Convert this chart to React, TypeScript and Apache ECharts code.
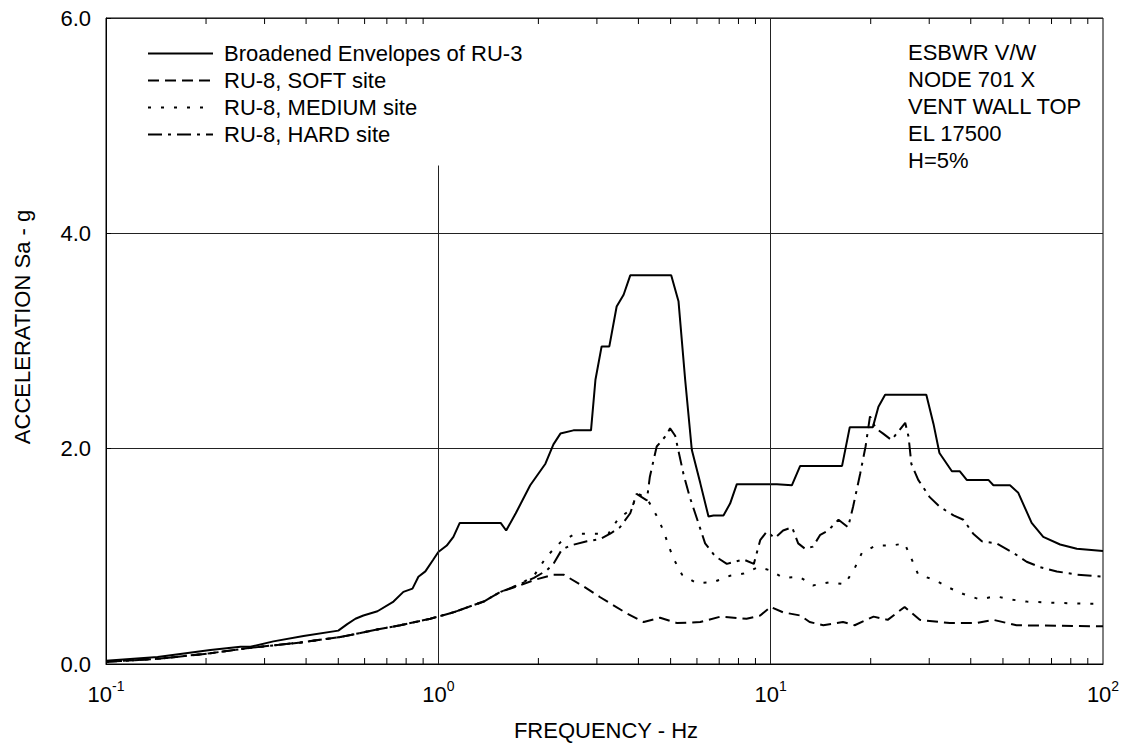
import React, { useEffect, useRef } from "react";
import * as echarts from "echarts";

// ---- Data (frequency in Hz, spectral acceleration in g) ----
const envFreq = [0.1, 0.143, 0.206, 0.254, 0.272, 0.319, 0.393, 0.5, 0.532, 0.563, 0.595, 0.656, 0.733, 0.785, 0.836, 0.871, 0.914, 0.966, 1.0, 1.06, 1.11, 1.16, 1.54, 1.6, 1.71, 1.89, 2.1, 2.22, 2.33, 2.55, 2.88, 2.97, 3.1, 3.27, 3.44, 3.61, 3.78, 5.02, 5.28, 5.53, 5.79, 6.14, 6.5, 6.73, 7.21, 7.55, 7.91, 10.44, 11.58, 12.27, 16.4, 17.3, 20.3, 21.1, 22.1, 29.4, 30.9, 32.2, 35.1, 37.1, 38.9, 45.2, 46.8, 52.5, 55.6, 61.0, 66.1, 74.3, 83.4, 100];
const envAcc = [0.03, 0.065, 0.13, 0.16, 0.16, 0.21, 0.26, 0.31, 0.37, 0.42, 0.45, 0.49, 0.58, 0.67, 0.7, 0.81, 0.86, 0.97, 1.04, 1.1, 1.18, 1.31, 1.31, 1.24, 1.4, 1.66, 1.86, 2.04, 2.14, 2.17, 2.17, 2.64, 2.95, 2.95, 3.32, 3.43, 3.61, 3.61, 3.37, 2.64, 1.99, 1.68, 1.37, 1.38, 1.38, 1.49, 1.67, 1.67, 1.66, 1.84, 1.84, 2.2, 2.2, 2.39, 2.5, 2.5, 2.23, 1.96, 1.79, 1.79, 1.71, 1.71, 1.66, 1.66, 1.59, 1.31, 1.18, 1.11, 1.07, 1.05];

const softFreq = [0.1, 0.146, 0.206, 0.272, 0.385, 0.507, 0.654, 0.769, 0.946, 1.11, 1.37, 1.54, 1.76, 1.94, 2.22, 2.38, 2.74, 3.07, 3.69, 4.15, 4.65, 5.23, 6.14, 7.06, 8.46, 9.3, 10.0, 10.9, 12.3, 13.1, 14.4, 16.5, 17.9, 20.4, 22.5, 25.3, 28.1, 30.1, 34.6, 41.6, 46.8, 54.9, 100];
const softAcc = [0.02, 0.05, 0.1, 0.15, 0.2, 0.25, 0.32, 0.36, 0.42, 0.48, 0.58, 0.67, 0.73, 0.78, 0.83, 0.83, 0.72, 0.62, 0.47, 0.39, 0.43, 0.38, 0.39, 0.44, 0.42, 0.45, 0.53, 0.48, 0.45, 0.39, 0.36, 0.39, 0.36, 0.44, 0.41, 0.53, 0.41, 0.4, 0.38, 0.38, 0.41, 0.36, 0.35];

const medFreq = [0.1, 0.146, 0.206, 0.272, 0.385, 0.507, 0.654, 0.769, 0.946, 1.11, 1.37, 1.54, 1.76, 1.94, 2.12, 2.33, 2.58, 2.9, 3.25, 3.48, 3.78, 4.0, 4.24, 4.55, 4.77, 4.94, 5.12, 5.41, 5.99, 6.72, 7.55, 8.29, 9.18, 9.96, 10.9, 12.2, 13.4, 15.1, 16.7, 17.9, 18.8, 20.7, 23.1, 25.3, 26.5, 27.8, 31.2, 34.3, 38.0, 42.6, 47.5, 52.4, 58.9, 69.0, 87.2, 100];
const medAcc = [0.02, 0.05, 0.1, 0.15, 0.2, 0.25, 0.32, 0.36, 0.42, 0.48, 0.58, 0.67, 0.74, 0.82, 1.0, 1.13, 1.21, 1.21, 1.21, 1.35, 1.43, 1.58, 1.54, 1.37, 1.23, 1.09, 0.97, 0.83, 0.75, 0.76, 0.82, 0.84, 0.9, 0.87, 0.8, 0.81, 0.73, 0.76, 0.74, 0.89, 1.03, 1.1, 1.1, 1.12, 0.98, 0.83, 0.78, 0.71, 0.65, 0.6, 0.63, 0.6, 0.58, 0.57, 0.56, 0.56];

const hardFreq = [0.1, 0.146, 0.206, 0.272, 0.385, 0.507, 0.654, 0.769, 0.946, 1.11, 1.37, 1.54, 1.76, 1.94, 2.12, 2.22, 2.35, 2.49, 2.8, 3.07, 3.29, 3.52, 3.78, 3.95, 4.24, 4.33, 4.54, 4.87, 4.98, 5.16, 5.47, 5.71, 6.06, 6.35, 6.81, 7.38, 8.29, 8.9, 9.3, 9.73, 10.3, 10.9, 11.6, 12.1, 12.7, 13.4, 14.1, 14.9, 16.0, 17.1, 17.7, 18.6, 19.3, 19.9, 20.7, 21.8, 23.1, 25.4, 26.0, 26.5, 27.8, 30.1, 32.3, 35.5, 38.0, 40.7, 43.2, 47.8, 53.9, 58.9, 64.6, 72.6, 83.4, 100];
const hardAcc = [0.02, 0.05, 0.1, 0.15, 0.2, 0.25, 0.32, 0.36, 0.42, 0.48, 0.58, 0.67, 0.74, 0.8, 0.87, 0.93, 1.06, 1.1, 1.14, 1.16, 1.21, 1.27, 1.4, 1.58, 1.52, 1.74, 2.02, 2.13, 2.19, 2.12, 1.76, 1.55, 1.31, 1.12, 1.0, 0.93, 0.97, 0.93, 1.15, 1.23, 1.17, 1.24, 1.27, 1.12, 1.07, 1.09, 1.2, 1.24, 1.34, 1.27, 1.46, 1.77, 2.02, 2.3, 2.19, 2.14, 2.08, 2.24, 2.11, 1.86, 1.71, 1.55, 1.46, 1.38, 1.34, 1.21, 1.14, 1.12, 1.03, 0.95, 0.9, 0.86, 0.83, 0.81];

const seriesNames = ["Broadened Envelopes of RU-3", "RU-8, SOFT site", "RU-8, MEDIUM site", "RU-8, HARD site"];
const minorTickFreqs = [0.2, 0.3, 0.4, 0.5, 0.6, 0.7, 0.8, 0.9, 2, 3, 4, 5, 6, 7, 8, 9, 20, 30, 40, 50, 60, 70, 80, 90];
const noteLines = ["ESBWR V/W", "NODE 701 X", "VENT WALL TOP", "EL 17500", "H=5%"];
const xTitle = "FREQUENCY - Hz";
const yTitle = "ACCELERATION Sa - g";

const FONT = "'Liberation Sans', Arial, Helvetica, sans-serif";

const pairs = (f: number[], a: number[]) => f.map((x, i) => [x, a[i]]);

export default function App() {
  const ref = useRef<HTMLDivElement>(null);
  useEffect(() => {
    if (!ref.current) return;
    const chart = echarts.init(ref.current, null, { renderer: "svg" });
    const lineBase = { type: "line", symbol: "none", showSymbol: false, smooth: false, silent: true, z: 3 };
    chart.setOption({
      animation: false,
      backgroundColor: "#ffffff",
      textStyle: { fontFamily: FONT, color: "#000" },
      grid: {
        left: 106,
        right: 22,
        top: 18,
        bottom: 81,
        show: true,
        borderColor: "#000",
        borderWidth: 1,
        backgroundColor: "transparent",
        containLabel: false,
        outerBoundsMode: "none",
      },
      legend: {
        data: seriesNames.map((name) => ({ name, itemStyle: { opacity: 0 } })),
        orient: "vertical",
        left: 147,
        top: 40,
        padding: 0,
        itemGap: 0,
        itemWidth: 65,
        itemHeight: 14,
        selectedMode: false,
        itemStyle: { opacity: 0, color: "rgba(0,0,0,0)", borderColor: "rgba(0,0,0,0)", borderWidth: 0 },
        textStyle: { fontFamily: FONT, fontSize: 22, color: "#000", lineHeight: 27, padding: [0, 0, 0, 6] },
      },
      xAxis: {
        type: "log",
        logBase: 10,
        min: 0.1,
        max: 100,
        axisLine: { show: true, lineStyle: { color: "#000", width: 1 } },
        axisTick: { show: false },
        splitLine: { show: false },
        axisLabel: {
          margin: 15,
          color: "#000",
          fontFamily: FONT,
          formatter: (v: number) => `{b|10}{s|${Math.round(Math.log10(v))}}`,
          rich: {
            b: { fontSize: 22, fontFamily: FONT, color: "#000", lineHeight: 26, verticalAlign: "bottom" },
            s: { fontSize: 14, fontFamily: FONT, color: "#000", lineHeight: 8, verticalAlign: "top" },
          },
        },
      },
      yAxis: {
        type: "value",
        min: 0,
        max: 6,
        interval: 2,
        axisLine: { show: true, lineStyle: { color: "#000", width: 1 } },
        axisTick: { show: true, inside: true, length: 5, lineStyle: { color: "#000" } },
        splitLine: { show: true, lineStyle: { color: "#222", width: 1 } },
        axisLabel: {
          margin: 15,
          fontSize: 22,
          color: "#000",
          fontFamily: FONT,
          formatter: (v: number) => v.toFixed(1),
        },
      },
      graphic: [
        {
          type: "text",
          left: 908,
          top: 39,
          style: { text: noteLines.join("\n"), font: `22px ${FONT}`, fill: "#000", lineHeight: 27 },
        },
        {
          type: "text",
          x: 22,
          y: 327,
          rotation: Math.PI / 2,
          style: { text: yTitle, font: `22px ${FONT}`, fill: "#000", align: "center", verticalAlign: "middle" },
        },
        {
          type: "text",
          x: 606,
          y: 730,
          style: { text: xTitle, font: `22px ${FONT}`, fill: "#000", align: "center", verticalAlign: "middle" },
        },
      ],
      series: [
        {
          ...lineBase,
          name: seriesNames[0],
          data: pairs(envFreq, envAcc),
          lineStyle: { color: "#000", width: 2, type: "solid" },
          itemStyle: { color: "#000" },
          markLine: {
            silent: true,
            symbol: "none",
            label: { show: false },
            lineStyle: { color: "#222", width: 1, type: "solid" },
            data: [
              [{ coord: [1, 0] }, { coord: [1, 4.63] }],
              [{ coord: [10, 0] }, { coord: [10, 6] }],
            ],
          },
        },
        {
          ...lineBase,
          name: seriesNames[1],
          data: pairs(softFreq, softAcc),
          lineStyle: { color: "#000", width: 2, type: [11, 6] },
          itemStyle: { color: "#000" },
        },
        {
          ...lineBase,
          name: seriesNames[2],
          data: pairs(medFreq, medAcc),
          lineStyle: { color: "#000", width: 2, type: [3, 10] },
          itemStyle: { color: "#000" },
        },
        {
          ...lineBase,
          name: seriesNames[3],
          data: pairs(hardFreq, hardAcc),
          lineStyle: { color: "#000", width: 2, type: [14, 6, 3, 6] },
          itemStyle: { color: "#000" },
        },
        {
          type: "custom",
          name: "minorTicks",
          silent: true,
          z: 5,
          data: minorTickFreqs.map((f) => [f, 0]),
          encode: { x: 0, y: 1 },
          renderItem: (params: any, api: any) => {
            const v = api.value(0);
            const b = api.coord([v, 0]);
            const t = api.coord([v, 6]);
            return {
              type: "group",
              children: [
                { type: "line", shape: { x1: b[0], y1: b[1], x2: b[0], y2: b[1] - 6 }, style: { stroke: "#000", lineWidth: 1 } },
                { type: "line", shape: { x1: t[0], y1: t[1], x2: t[0], y2: t[1] + 6 }, style: { stroke: "#000", lineWidth: 1 } },
              ],
            };
          },
        },
      ],
    });
    return () => chart.dispose();
  }, []);
  return (
    <div
      ref={ref}
      style={{ position: "fixed", left: 0, top: 0, width: 1125, height: 745, background: "#fff" }}
    />
  );
}
